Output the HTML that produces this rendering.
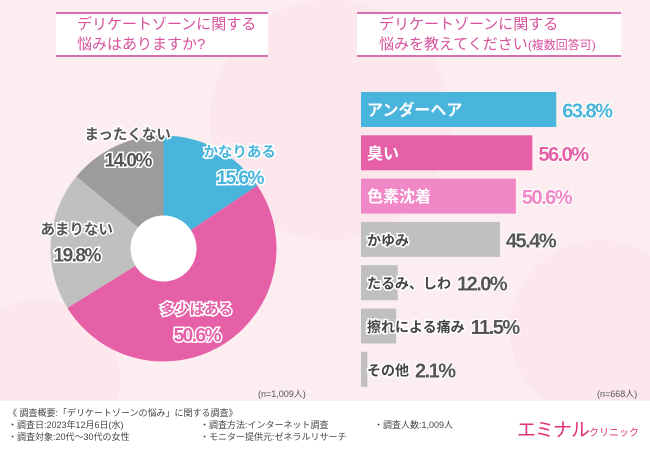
<!DOCTYPE html>
<html><head><meta charset="utf-8"><style>
body{margin:0;width:650px;height:450px;overflow:hidden;font-family:"Liberation Sans","Noto Sans CJK JP",sans-serif;}
#bg{position:absolute;left:0;top:0;width:650px;height:450px;background:#fcedf0;}
.hdr{position:absolute;background:#fff;border-top:2px solid #d46fb4;border-bottom:2px solid #d46fb4;color:#d9509d;font-size:15px;line-height:20px;padding:1px 0 0 0;box-sizing:border-box;height:45px;}
.foot{position:absolute;left:0;top:401px;width:650px;height:49px;background:#fff;font-size:9px;color:#444;}
.foot div{position:absolute;white-space:nowrap;}
</style></head><body>
<div id="bg"></div>
<svg width="650" height="400" style="position:absolute;left:0;top:0">
<circle cx="330" cy="120" r="120" fill="#fae3ea" opacity="0.6"/>
<circle cx="600" cy="330" r="90" fill="#fae3ea" opacity="0.6"/>
<circle cx="40" cy="380" r="80" fill="#fae3ea" opacity="0.6"/>
</svg>
<div class="hdr" style="left:56px;top:12px;width:212px;padding-left:21px">デリケートゾーンに関する<br>悩みはありますか?</div>
<div class="hdr" style="left:357px;top:12px;width:264px;padding-left:22px">デリケートゾーンに関する<br>悩みを教えてください<span style="font-size:12px">(複数回答可)</span></div>
<svg id="pie" width="650" height="400" style="position:absolute;left:0;top:0"></svg>
<svg id="bars" width="650" height="400" style="position:absolute;left:0;top:0"></svg>
<div style="position:absolute;left:258px;top:387px;font-size:9px;color:#555">(n=1,009人)</div>
<div style="position:absolute;left:597px;top:387px;font-size:9px;color:#555">(n=668人)</div>
<div class="foot">
<div style="left:8px;top:5px">《 調査概要:「デリケートゾーンの悩み」に関する調査》</div>
<div style="left:8px;top:17px">・調査日:2023年12月6日(水)</div>
<div style="left:8px;top:29px">・調査対象:20代～30代の女性</div>
<div style="left:200px;top:17px">・調査方法:インターネット調査</div>
<div style="left:200px;top:29px">・モニター提供元:ゼネラルリサーチ</div>
<div style="left:374px;top:17px">・調査人数:1,009人</div>
<div style="left:517px;top:14px;font-size:19px;color:#e0307a;letter-spacing:-1px">エミナル<span style="font-size:10px;letter-spacing:0">クリニック</span></div>
</div>
<script>
const pieLabels=["かなりある","多少はある","あまりない","まったくない"];
const pieValues=[15.6,50.6,19.8,14.0];
const pieColors=["#4ab5dc","#e660a7","#c0c0c0","#9c9c9c"];
const barLabels=["アンダーヘア","臭い","色素沈着","かゆみ","たるみ、しわ","擦れによる痛み","その他"];
const barValues=[63.8,56.0,50.6,45.4,12.0,11.5,2.1];
const barColors=["#4ab5dc","#e660a7","#f088c8","#c0c0c0","#c0c0c0","#c0c0c0","#c0c0c0"];
const valColors=["#4ab5dc","#e660a7","#f088c8","#555","#555","#555","#555"];
const NS="http://www.w3.org/2000/svg";
function mk(p,t,a){const e=document.createElementNS(NS,t);for(const k in a)e.setAttribute(k,a[k]);p.appendChild(e);return e;}
const pie=document.getElementById('pie');
const cx=163.5,cy=248.5,R=113,r0=33;
const total=pieValues.reduce((a,b)=>a+b,0);
// label anchor placement (layout only): angular offset and radius factor per slice
const labAdj=[[0.25,1.0],[0.15,0.72],[0,0.77],[0.1,0.95]];
let a0=0;
const tcol=["#4ab5dc","#e660a7","#555","#555"];
pieValues.forEach((v,i)=>{
 const a1=a0+v/total*2*Math.PI;
 const p=(a)=>[cx+R*Math.sin(a),cy-R*Math.cos(a)];
 const [x0,y0]=p(a0),[x1,y1]=p(a1);
 const s=mk(pie,'path',{d:`M${cx},${cy}L${x0},${y0}A${R},${R} 0 ${a1-a0>Math.PI?1:0} 1 ${x1},${y1}Z`,fill:pieColors[i]});
 
 
 const am=(a0+a1)/2+labAdj[i][0], lr=R*labAdj[i][1];
 const lx=cx+lr*Math.sin(am), ly=cy-lr*Math.cos(am);
 const t1=mk(pie,'text',{x:lx,y:ly-8,'text-anchor':'middle','font-size':14.5,'font-weight':'bold',fill:tcol[i],stroke:'#fff','stroke-width':3,'paint-order':'stroke'});
 t1.textContent=pieLabels[i];
 
 
 const t2=mk(pie,'text',{x:lx,y:ly+19,'text-anchor':'middle','font-size':19,'font-weight':'bold',fill:tcol[i],stroke:'#fff','stroke-width':3,'paint-order':'stroke','letter-spacing':'-1.5'});
 t2.textContent=v.toFixed(1)+'%';
 
 
 a0=a1;
});
const hole=mk(pie,'circle',{cx:cx,cy:cy,r:r0,fill:'#fff'});


const bars=document.getElementById('bars');
const x0=361,scale=3.06,top0=92,step=43.3,bh=35;
const xs=v=>v*scale;
barValues.forEach((v,i)=>{
 const y=top0+i*step;
 const b=mk(bars,'rect',{x:x0,y:y,width:xs(v),height:bh,fill:barColors[i]});
 
 
 const col=i<3?'#fff':'#444';
 const t=mk(bars,'text',{x:x0+6,y:y+bh/2+6,'font-size':i<3?16:14,'font-weight':'bold',fill:col,stroke:i<3?barColors[i]:'#fff','stroke-width':i<3?0:3,'paint-order':'stroke'});
 t.textContent=barLabels[i];
 
 
 const lw=t.getComputedTextLength();
 const vx=Math.max(x0+xs(v),x0+6+lw)+6;
 const vt=mk(bars,'text',{x:vx,y:y+bh/2+8,'font-size':20,'font-weight':'bold',fill:valColors[i],stroke:'#fff','stroke-width':2,'paint-order':'stroke','letter-spacing':'-1.5'});
 vt.textContent=v.toFixed(1)+'%';
 
 
});
</script>
</body></html>
